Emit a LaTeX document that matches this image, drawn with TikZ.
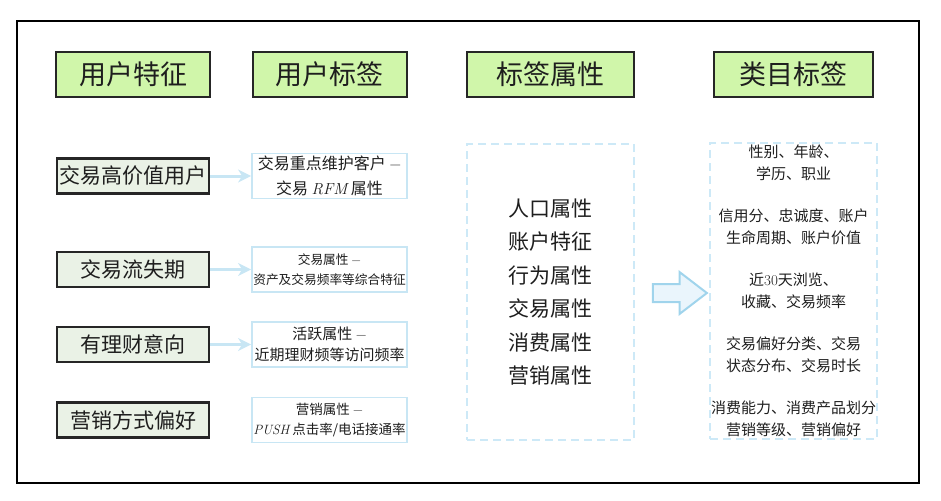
\documentclass[tikz,border=0pt]{standalone}
\usepackage{fontspec}
\newfontfamily\cjk{Noto Sans CJK SC}
\usepackage{tikz}
\usetikzlibrary{
  arrows.meta,
  shapes.arrows
}
\definecolor{hdrgreen}{RGB}{208,246,170}
\definecolor{featgreen}{RGB}{234,242,230}
\definecolor{lineblue}{RGB}{200,230,244}
\definecolor{dashblue}{RGB}{205,233,247}
\definecolor{arrowfill}{RGB}{234,245,252}
\definecolor{arrowline}{RGB}{160,212,236}
\definecolor{txtgray}{RGB}{30,30,30}

\begin{document}
\begin{tikzpicture}[x=1pt, y=-1pt,
  hdr/.style={draw=black!85, fill=hdrgreen, line width=2pt, minimum width=154pt,
              minimum height=45pt, inner sep=0pt, text=txtgray,
              font=\cjk\fontsize{27}{30}\selectfont},
  feat/.style={draw=black!85, fill=featgreen, line width=2.4pt, minimum width=152pt,
               minimum height=35pt, inner sep=0pt, text=txtgray,
               font=\cjk\fontsize{21}{24}\selectfont},
  tagbox/.style={draw=lineblue, fill=white, line width=1.8pt, minimum width=155pt,
                 minimum height=45pt, inner sep=0pt, align=center, text=txtgray},
  dashbox/.style={draw=dashblue, line width=2pt, dash pattern=on 8pt off 5pt,
                  minimum width=167pt, minimum height=296pt, inner sep=0pt,
                  align=center, text=txtgray},
  flow/.style={-{Stealth[length=13pt, width=13pt, inset=4pt]}, line width=3pt, lineblue},
  bigarrow/.style={single arrow, draw=arrowline, fill=arrowfill, line width=2pt,
                   minimum height=54pt, inner xsep=0pt, inner ysep=8pt,
                   single arrow head extend=12pt, single arrow tip angle=75}
]
\useasboundingbox (0,0) rectangle (941,500);

%% Outer frame
\draw[line width=2pt] (17,21) rectangle (919,483);

%% Column headers
\node[hdr]                      (hdfeat) at (133,74.5)   {用户特征};
\node[hdr]                      (hdtag)  at (329.5,74.5) {用户标签};
\node[hdr, minimum width=167pt] (hdattr) at (550.5,74.5) {标签属性};
\node[hdr, minimum width=159pt] (hdcat)  at (793.5,74.5) {类目标签};

%% User features
\node[feat] (fhigh)   at (133,176)   {交易高价值用户};
\node[feat] (flost)   at (133,269.5) {交易流失期};
\node[feat] (fwealth) at (133,344.5) {有理财意向};
\node[feat] (fmkt)    at (133,420)   {营销方式偏好};

%% User tags
\node[tagbox, font=\cjk\fontsize{16}{25}\selectfont] (thigh) at (329.5,176)
  {交易重点维护客户 {\rmfamily −}\\交易 {\rmfamily\itshape RFM} 属性};
\node[tagbox, font=\cjk\fontsize{12.7}{20}\selectfont] (tlost) at (329.5,269.5)
  {交易属性 {\rmfamily −}\\资产及交易频率等综合特征};
\node[tagbox, font=\cjk\fontsize{15}{21}\selectfont] (twealth) at (329.5,344.5)
  {活跃属性 {\rmfamily −}\\近期理财频等访问频率};
\node[tagbox, font=\cjk\fontsize{13.5}{20}\selectfont] (tmkt) at (329.5,420)
  {营销属性 {\rmfamily −}\\{\rmfamily\itshape PUSH} 点击率/电话接通率};

%% Feature to tag arrows
\draw[flow] (fhigh)   -- (thigh);
\draw[flow] (flost)   -- (tlost);
\draw[flow] (fwealth) -- (twealth);

%% Attribute and category panels
\node[dashbox, font=\cjk\fontsize{21}{33.5}\selectfont] (attrs) at (550.5,292)
  {人口属性\\账户特征\\行为属性\\交易属性\\消费属性\\营销属性};
\node[dashbox, font=\cjk\fontsize{15}{22}\selectfont] (cats) at (793.5,291)
  {性别、年龄、\\学历、职业\\[20pt]
   信用分、忠诚度、账户\\生命周期、账户价值\\[20pt]
   近{\rmfamily 30}天浏览、\\收藏、交易频率\\[20pt]
   交易偏好分类、交易\\状态分布、交易时长\\[20pt]
   消费能力、消费产品划分\\营销等级、营销偏好};

%% Mapping arrow
\node[bigarrow] (move) at (674,293) {};
\end{tikzpicture}
\end{document}
